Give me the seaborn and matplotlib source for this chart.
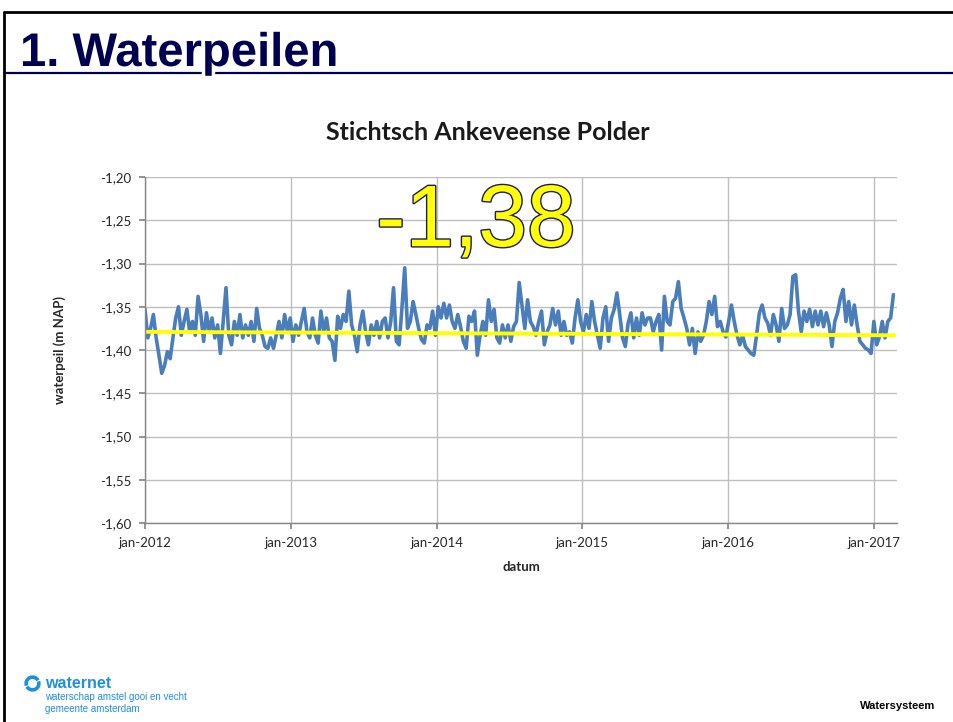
import numpy as np
import pandas as pd
import matplotlib
matplotlib.use("Agg")
import matplotlib.pyplot as plt
import matplotlib.patheffects as pe
from matplotlib.patches import Arc
import seaborn as sns

# ---------------- data ----------------
start_date = "2012-01-01"
waterpeil = [
    -1.353, -1.386, -1.375, -1.359, -1.386, -1.406, -1.427, -1.418, -1.402, -1.410,
    -1.386, -1.363, -1.350, -1.383, -1.367, -1.353, -1.379, -1.367, -1.383, -1.338,
    -1.359, -1.390, -1.357, -1.379, -1.363, -1.386, -1.371, -1.404, -1.367, -1.328,
    -1.383, -1.394, -1.367, -1.383, -1.359, -1.386, -1.371, -1.383, -1.367, -1.390,
    -1.352, -1.375, -1.383, -1.396, -1.398, -1.386,
    -1.398, -1.383, -1.367, -1.386, -1.359, -1.379, -1.363, -1.390, -1.371, -1.383,
    -1.367, -1.352, -1.379, -1.386, -1.363, -1.383, -1.392, -1.355, -1.379, -1.363,
    -1.386, -1.390, -1.412, -1.361, -1.375, -1.359, -1.367, -1.332, -1.371, -1.383,
    -1.402, -1.371, -1.355, -1.379, -1.394, -1.371, -1.383, -1.367, -1.386, -1.367,
    -1.363, -1.386, -1.367, -1.328, -1.390,
    -1.394, -1.352, -1.305, -1.375, -1.367, -1.344, -1.359, -1.375, -1.388, -1.392,
    -1.371, -1.375, -1.355, -1.383, -1.350, -1.363, -1.346, -1.363, -1.348, -1.367,
    -1.375, -1.359, -1.373, -1.390, -1.398, -1.361, -1.367, -1.355, -1.406, -1.383,
    -1.367, -1.383, -1.342, -1.367, -1.353, -1.386, -1.392, -1.371, -1.386, -1.371,
    -1.390, -1.373, -1.367, -1.322, -1.348,
    -1.375, -1.342, -1.367, -1.373, -1.383, -1.367, -1.355, -1.394, -1.379, -1.371,
    -1.352, -1.371, -1.355, -1.383, -1.367, -1.383, -1.379, -1.392, -1.363, -1.342,
    -1.367, -1.379, -1.359, -1.375, -1.344, -1.367, -1.383, -1.398, -1.363, -1.350,
    -1.390, -1.363, -1.353, -1.334, -1.359, -1.386, -1.396, -1.369, -1.357, -1.386,
    -1.363, -1.383, -1.357, -1.371, -1.363,
    -1.363, -1.379, -1.367, -1.359, -1.400, -1.338, -1.367, -1.371, -1.344, -1.340,
    -1.321, -1.352, -1.363, -1.375, -1.394, -1.375, -1.404, -1.379, -1.390, -1.383,
    -1.367, -1.344, -1.359, -1.338, -1.373, -1.367, -1.379, -1.385, -1.367, -1.348,
    -1.367, -1.383, -1.394, -1.383, -1.396, -1.400, -1.404, -1.406, -1.383, -1.357,
    -1.348, -1.363, -1.369, -1.383, -1.359,
    -1.371, -1.390, -1.352, -1.375, -1.371, -1.359, -1.315, -1.313, -1.355, -1.379,
    -1.355, -1.367, -1.353, -1.373, -1.355, -1.371, -1.355, -1.373, -1.357, -1.371,
    -1.396, -1.367, -1.357, -1.340, -1.330, -1.367, -1.344, -1.371, -1.348, -1.371,
    -1.390, -1.394, -1.398, -1.400, -1.404, -1.367, -1.394, -1.385, -1.367, -1.386,
    -1.367, -1.363, -1.336,
]
datum = pd.date_range(start_date, periods=len(waterpeil), freq="7D")

streefpeil_dates = ["2012-01-01", "2017-02-21"]
streefpeil_values = [-1.379, -1.383]
streefpeil_label = "-1,38"

year_ticks = ["2012-01-01", "2013-01-01", "2014-01-01", "2015-01-01", "2016-01-01", "2017-01-01"]
year_labels = ["jan-2012", "jan-2013", "jan-2014", "jan-2015", "jan-2016", "jan-2017"]
y_ticks = [-1.60, -1.55, -1.50, -1.45, -1.40, -1.35, -1.30, -1.25, -1.20]
y_labels = ["-1,60", "-1,55", "-1,50", "-1,45", "-1,40", "-1,35", "-1,30", "-1,25", "-1,20"]

slide_title = "1. Waterpeilen"
chart_title = "Stichtsch Ankeveense Polder"

df = pd.DataFrame({"datum": datum, "waterpeil": waterpeil})
df_sp = pd.DataFrame({"datum": pd.to_datetime(streefpeil_dates), "waterpeil": streefpeil_values})

# ---------------- figure ----------------
sns.set_theme(style="white")
plt.rcParams["font.family"] = ["Lato", "DejaVu Sans"]

W, H = 954, 722
fig = plt.figure(figsize=(W / 100, H / 100), dpi=100)
fig.patch.set_facecolor("white")

ax = fig.add_axes([145 / W, 1 - 523 / H, 752 / W, 346 / H])
sns.lineplot(data=df, x="datum", y="waterpeil", ax=ax, color="#4a7ebb", linewidth=2.6)
sns.lineplot(data=df_sp, x="datum", y="waterpeil", ax=ax, color="#ffff00", linewidth=2.8)

ax.set_ylim(-1.60, -1.20)
ax.set_xlim(pd.Timestamp("2012-01-01"), pd.Timestamp("2017-02-28"))
ax.set_yticks(y_ticks)
ax.set_yticklabels(y_labels, fontsize=9.5)
ax.set_xticks(pd.to_datetime(year_ticks))
ax.set_xticklabels(year_labels, fontsize=9.5)
ax.grid(True, color="#bfbfbf", linewidth=1.0)
ax.set_axisbelow(True)
for s in ["top", "right"]:
    ax.spines[s].set_visible(False)
for s in ["left", "bottom"]:
    ax.spines[s].set_color("#868686")
    ax.spines[s].set_linewidth(1.0)
ax.tick_params(axis="both", length=4, color="#868686", direction="out", pad=6, bottom=True, left=True)
ax.set_xlabel("datum", fontsize=9.5, fontweight="bold", labelpad=9)
ax.set_ylabel("waterpeil (m NAP)", fontsize=9.5, fontweight="bold", labelpad=24)

fig.text(488 / W, 1 - 132 / H, chart_title, fontsize=18, fontweight="bold", color="#1a1a1a",
         ha="center", va="center")

# big level label
ax.text(0.44, 0.865, streefpeil_label, transform=ax.transAxes, ha="center", va="center",
        fontsize=63, color="#ffff00", family=["Liberation Sans", "DejaVu Sans"],
        path_effects=[pe.withStroke(linewidth=2.0, foreground="#1c1c5a")])

# ---------------- slide decorations ----------------
navy = "#000050"
fig.add_artist(plt.Line2D([4 / W, 1], [1 - 12 / H, 1 - 12 / H], color="black", linewidth=2.0))
fig.add_artist(plt.Line2D([4 / W, 4 / W], [1 - 12 / H, 0], color="black", linewidth=2.0))
fig.add_artist(plt.Line2D([4 / W, 1], [1 - 73 / H, 1 - 73 / H], color=navy, linewidth=1.6))
fig.text(20 / W, 1 - 66 / H, slide_title, fontsize=34, fontweight="bold", color=navy,
         family=["Liberation Sans Narrow", "Liberation Sans", "DejaVu Sans"], ha="left", va="baseline",
         path_effects=[pe.withStroke(linewidth=5, foreground="white")])

# footer logo
blue = "#1f8fe0"
lax = fig.add_axes([24 / W, 1 - 692 / H, 17 / W, 17 / H])
lax.set_xlim(-1.2, 1.2)
lax.set_ylim(-1.2, 1.2)
lax.set_aspect("equal")
lax.axis("off")
lax.add_patch(Arc((0, 0), 1.8, 1.8, theta1=30, theta2=200, color=blue, linewidth=2.6))
lax.add_patch(Arc((0, 0), 1.8, 1.8, theta1=210, theta2=380, color=blue, linewidth=2.6))
fig.text(45 / W, 1 - 683 / H, "waternet", fontsize=11.5, fontweight="bold", color=blue,
         family=["Liberation Sans Narrow", "Liberation Sans"], ha="left", va="center")
fig.text(45 / W, 1 - 697 / H, "waterschap amstel gooi en vecht", fontsize=7, color=blue,
         family=["Liberation Sans Narrow", "Liberation Sans"], ha="left", va="center")
fig.text(45 / W, 1 - 709 / H, "gemeente amsterdam", fontsize=7, color=blue,
         family=["Liberation Sans Narrow", "Liberation Sans"], ha="left", va="center")
fig.text(935 / W, 1 - 706 / H, "Watersysteem", fontsize=8, fontweight="bold", color="black",
         family=["Liberation Sans Narrow", "Liberation Sans"], ha="right", va="center")

fig.savefig("out.png", dpi=100)
